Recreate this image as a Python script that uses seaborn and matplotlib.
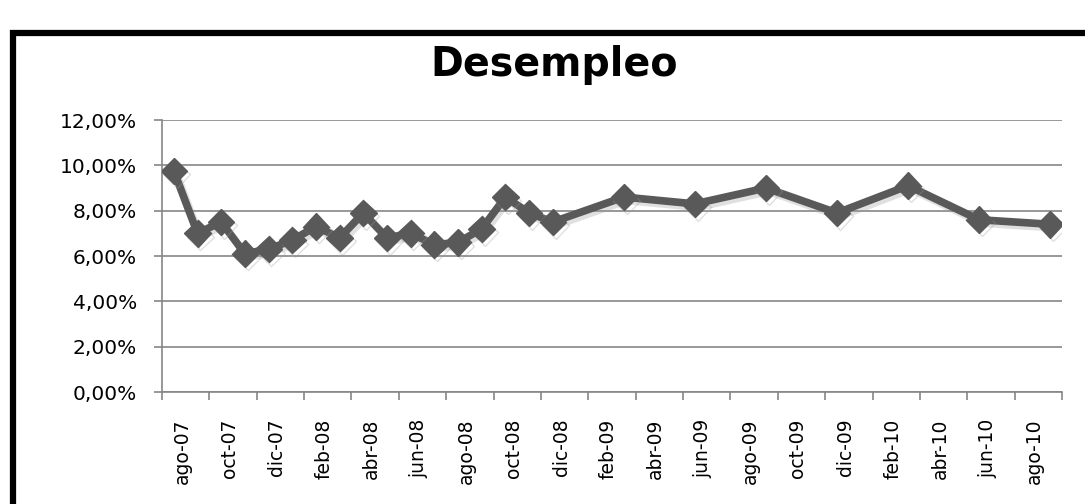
import numpy as np
import pandas as pd
import matplotlib
matplotlib.use("Agg")
import matplotlib.pyplot as plt
import matplotlib.patheffects as pe
from matplotlib.lines import Line2D
from matplotlib.ticker import FixedLocator, FuncFormatter, NullFormatter
import seaborn as sns

# Monthly unemployment rate (monthly until Dec-2008, quarterly afterwards)
months = [
    "2007-08", "2007-09", "2007-10", "2007-11", "2007-12",
    "2008-01", "2008-02", "2008-03", "2008-04", "2008-05", "2008-06",
    "2008-07", "2008-08", "2008-09", "2008-10", "2008-11", "2008-12",
    "2009-03", "2009-06", "2009-09", "2009-12",
    "2010-03", "2010-06", "2010-09",
]
desempleo = [
    9.75, 7.0, 7.5, 6.1, 6.3,
    6.7, 7.3, 6.8, 7.9, 6.8, 7.0,
    6.5, 6.6, 7.2, 8.6, 7.9, 7.5,
    8.6, 8.3, 9.0, 7.9,
    9.1, 7.6, 7.4,
]
tick_labels = [
    "ago-07", "oct-07", "dic-07", "feb-08", "abr-08", "jun-08", "ago-08",
    "oct-08", "dic-08", "feb-09", "abr-09", "jun-09", "ago-09", "oct-09",
    "dic-09", "feb-10", "abr-10", "jun-10", "ago-10",
]
y_ticks = [0, 2, 4, 6, 8, 10, 12]

# month slots on a date axis: slot 0 = ago-07, each point sits in the middle of its month
dates = pd.to_datetime(months)
month_idx = (dates.year - 2007) * 12 + dates.month - 8
df = pd.DataFrame({"mes": month_idx + 0.5, "tasa": desempleo})
n_slots = 2 * len(tick_labels)

sns.set_style("white")
plt.rcParams["font.family"] = ["DejaVu Sans"]

W, H = 1085, 504
fig = plt.figure(figsize=(W / 100, H / 100), dpi=100)
ax = fig.add_axes([162 / W, 1 - 392 / H, (1062 - 162) / W, (392 - 120) / H])

grid_col = "#868686"
line_col = "#595959"

sns.lineplot(data=df, x="mes", y="tasa", ax=ax, color=line_col, linewidth=5.5,
             marker="D", markersize=13.5, markeredgecolor=line_col,
             markeredgewidth=1, zorder=3)
ax.lines[0].set_path_effects([
    pe.SimpleLineShadow(offset=(2, -2.5), shadow_color="#9a9a9a", alpha=0.3),
    pe.Normal(),
])

ax.set_xlim(0, n_slots)
ax.set_ylim(0, 12)

# y axis
ax.yaxis.set_major_locator(FixedLocator(y_ticks))
ax.yaxis.set_major_formatter(FuncFormatter(lambda v, _: f"{v:.2f}".replace(".", ",") + "%"))
ax.grid(axis="y", color=grid_col, linewidth=1.2)
ax.grid(axis="x", visible=False)

# x axis: tick marks every two months, labels between them
ax.xaxis.set_major_locator(FixedLocator(np.arange(0, n_slots + 1, 2)))
ax.xaxis.set_major_formatter(NullFormatter())
ax.xaxis.set_minor_locator(FixedLocator(np.arange(0, n_slots, 2) + 0.85))
ax.xaxis.set_minor_formatter(FuncFormatter(lambda v, pos: tick_labels[pos] if pos is not None and pos < len(tick_labels) else ""))
ax.tick_params(axis="x", which="major", direction="out", length=5.5, width=1.2,
               color=grid_col, bottom=True)
ax.tick_params(axis="x", which="minor", length=0, pad=19, labelsize=13.5,
               labelrotation=90, labelcolor="black", bottom=True)
for lab in ax.xaxis.get_minorticklabels():
    lab.set_verticalalignment("top")
    lab.set_horizontalalignment("center")
ax.tick_params(axis="y", direction="out", length=6, width=1.2, color=grid_col,
               pad=12, labelsize=14.5, labelcolor="black", left=True)

for side in ("top", "right"):
    ax.spines[side].set_visible(False)
for side in ("left", "bottom"):
    ax.spines[side].set_color(grid_col)
    ax.spines[side].set_linewidth(1.2)

ax.set_xlabel("")
ax.set_ylabel("")

fig.text(554 / W, 1 - 76 / H, "Desempleo", ha="center", va="baseline",
         fontsize=28.5, fontweight="bold", color="black")

# chart frame
fig.add_artist(Line2D([13 / W, 13 / W, 1.02], [-0.02, 1 - 33 / H, 1 - 33 / H],
                      transform=fig.transFigure, color="black", linewidth=4.5,
                      solid_joinstyle="miter"))

fig.savefig("out.png", dpi=100)
